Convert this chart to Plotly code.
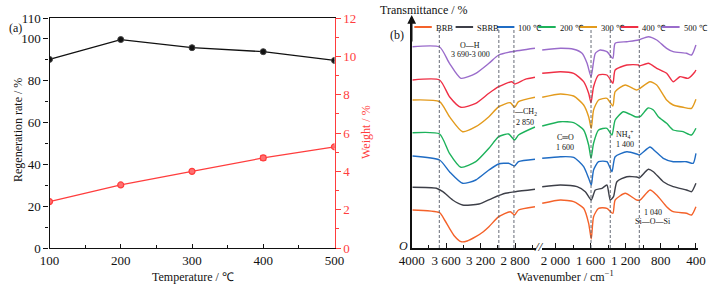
import plotly.graph_objects as go

W, H = 717, 288
FONT = "Liberation Serif"

# ---------------- data: panel (a) ----------------
temperature = [100, 200, 300, 400, 500]
regeneration_rate = [90.2, 99.7, 95.8, 93.9, 89.7]
weight = [2.42, 3.29, 4.00, 4.70, 5.28]
weight_err = [0.05, 0.05, 0.06, 0.13, 0.06]

# ---------------- data: panel (b) (wavenumber, relative transmittance) ----------------
series_names = ["BRB", "SBRB", "100 ℃", "200 ℃", "300 ℃", "400 ℃", "500 ℃"]

brb_wn = [3990, 3677, 3619, 3562, 3505, 3429, 3357, 3257, 3174, 3105, 2991, 2857, 2808, 2762, 2571,
          2151, 1943, 1793, 1679, 1622, 1592, 1566, 1509, 1414, 1346, 1320, 1206, 1074, 1036, 923, 847, 734, 659, 507, 450, 400]
brb_t = [38, 35.3, 28, 19.7, 12, 6.3, 7, 11.3, 16, 21.3, 31.3, 36.3, 33, 38, 41.3,
         44.7, 48, 46.3, 39.7, 24.7, 9, 31.3, 39.7, 39.7, 34.7, 48, 54.7, 48, 48, 58, 53, 41.3, 36.3, 34.7, 33, 41.3]

sbrb_wn = [3990, 3714, 3639, 3525, 3410, 3219, 3067, 2914, 2800, 2571,
           2151, 1943, 1754, 1660, 1592, 1546, 1470, 1414, 1376, 1339, 1300, 1187, 1074, 1045, 942, 885, 772, 659, 507, 450, 400]
sbrb_t = [60.7, 59.7, 56.3, 48, 43, 44, 49.7, 54.7, 56.3, 58.7,
          61.3, 63, 61.3, 56.3, 48, 58, 59.7, 63, 48, 51.3, 66.3, 71.3, 71, 70, 78.7, 76.3, 66.3, 61.3, 58, 56.3, 64.7]

t100_wn = [3990, 3677, 3562, 3410, 3257, 3105, 2991, 2877, 2808, 2762, 2571,
           2151, 1943, 1793, 1679, 1622, 1592, 1566, 1509, 1414, 1357, 1320, 1187, 1074, 1045, 923, 866, 772, 659, 507, 432, 400]
t100_t = [92, 88, 76.3, 64.7, 68, 78, 84, 84.7, 82, 86.3, 88.7,
          89.7, 91.3, 90.7, 81.3, 69.7, 63, 78, 86.3, 86.3, 76.3, 91.3, 96.3, 94, 93, 101, 97, 89.7, 86.3, 86.3, 84.7, 94.7]

t200_wn = [3990, 3677, 3562, 3429, 3257, 3105, 2991, 2877, 2808, 2762, 2571,
           2151, 1943, 1793, 1679, 1622, 1595, 1566, 1509, 1414, 1357, 1320, 1226, 1093, 1036, 945, 885, 829, 734, 659, 546, 450, 400]
t200_t = [115.3, 114, 94.7, 80.7, 86.3, 99.7, 111.3, 114, 108, 113, 121,
          122, 126.3, 125.3, 118, 103, 89.7, 104.7, 118, 119.7, 113, 128, 136.3, 131.3, 131.3, 140, 138, 131.3, 124.7, 118, 116.3, 113, 119.7]

t300_wn = [3990, 3677, 3562, 3410, 3257, 3105, 2991, 2857, 2808, 2762, 2571,
           2151, 1943, 1793, 1679, 1622, 1592, 1566, 1509, 1414, 1346, 1320, 1206, 1074, 1036, 923, 847, 734, 659, 546, 450, 400]
t300_t = [148, 146.3, 131.3, 116.3, 121.3, 131.3, 141.3, 145.3, 140.7, 146.3, 150.7,
          150.7, 154, 152, 143, 131.3, 119.7, 138, 148, 149.7, 142, 156.3, 163, 158, 159.7, 166.3, 163, 148, 143, 140.7, 139.7, 148.7]

t400_wn = [3990, 3677, 3562, 3429, 3257, 3105, 2991, 2839, 2808, 2686, 2571,
           2151, 1943, 1793, 1679, 1622, 1595, 1566, 1509, 1414, 1346, 1320, 1187, 1056, 1045, 942, 847, 734, 659, 583, 489, 413, 400]
t400_t = [168, 168, 151.3, 140.7, 144.7, 154.7, 161.3, 166.3, 164, 168.7, 170.7,
          174.7, 176.3, 174.7, 166.3, 154.7, 145.3, 161.3, 173, 173, 164.7, 178, 183, 183, 182, 184.7, 179.7, 174.7, 166.3, 171.3, 169.7, 176, 178]

t500_wn = [3990, 3677, 3562, 3429, 3257, 3105, 2991, 2839, 2571,
           2151, 1943, 1793, 1697, 1640, 1595, 1546, 1490, 1414, 1346, 1320, 1187, 1056, 942, 847, 734, 659, 507, 450, 400]
t500_t = [201.3, 201, 184.7, 169.7, 174.7, 184.7, 193, 196.3, 199.7,
          198, 199.7, 198.7, 194.7, 184.7, 171.3, 194.7, 198, 196.3, 189.7, 204.7, 206.3, 208, 211.3, 208, 199.7, 196.3, 194.7, 193, 203]

spectra_wn = [brb_wn, sbrb_wn, t100_wn, t200_wn, t300_wn, t400_wn, t500_wn]
spectra_t = [brb_t, sbrb_t, t100_t, t200_t, t300_t, t400_t, t500_t]

left_ticks = [4000, 3600, 3200, 2800]
left_ticktext = ["4000", "3 600", "3 200", "2 800"]
right_ticks = [2000, 1600, 1200, 800, 400]
right_ticktext = ["2 000", "1 600", "1 200", "800", "400"]
dashed_left = [3680, 2990, 2815]
dashed_right = [1595, 1376, 1045]

# ---------------- styles ----------------
colors = ["#f4622a", "#3d3f48", "#1f6cc4", "#1db25b", "#e39b1d", "#ef2f45", "#9a6ccb"]
BLACK = "#111111"
RED = "#ff3d3d"


def fx(px):
    return px / W


def fy(py):
    return 1 - py / H


fig = go.Figure()

# panel (a)
fig.add_trace(go.Scatter(x=temperature, y=regeneration_rate, mode="lines+markers",
                         line=dict(color=BLACK, width=1.3),
                         marker=dict(symbol="circle", size=6, color=BLACK, line=dict(color="#444", width=1)),
                         xaxis="x", yaxis="y", showlegend=False))
fig.add_trace(go.Scatter(x=temperature, y=weight, mode="lines+markers",
                         line=dict(color=RED, width=1.2),
                         marker=dict(symbol="circle", size=6, color="#ff7070", line=dict(color=RED, width=1.2)),
                         error_y=dict(type="data", array=weight_err, color=RED, thickness=1, width=3),
                         xaxis="x", yaxis="y2", showlegend=False))

# panel (b) spectra, split over the broken axis
for name, wn, t, c in zip(series_names, spectra_wn, spectra_t, colors):
    lx = [w for w in wn if w > 2300]
    ly = [v for w, v in zip(wn, t) if w > 2300]
    rx = [w for w in wn if w <= 2300]
    ry = [v for w, v in zip(wn, t) if w <= 2300]
    fig.add_trace(go.Scatter(x=lx, y=ly, mode="lines", line=dict(color=c, width=1.4, shape="spline", smoothing=0.6),
                             xaxis="x2", yaxis="y3", name=name, showlegend=False))
    fig.add_trace(go.Scatter(x=rx, y=ry, mode="lines", line=dict(color=c, width=1.4, shape="spline", smoothing=0.6),
                             xaxis="x3", yaxis="y3", name=name, showlegend=False))

tickfont = dict(family=FONT, size=13, color=BLACK)
ydom = [fy(248), fy(18)]

fig.update_layout(
    width=W, height=H, margin=dict(l=0, r=0, t=0, b=0),
    paper_bgcolor="white", plot_bgcolor="white",
    font=dict(family=FONT, color=BLACK),
    showlegend=False,
    xaxis=dict(domain=[fx(49.5), fx(334.5)], range=[100, 500], tickvals=temperature,
               ticks="inside", ticklen=4, tickcolor=BLACK, showline=True, linecolor=BLACK, linewidth=1.4,
               mirror=True, showgrid=False, zeroline=False, tickfont=tickfont, anchor="y",
               minor=dict(dtick=50, ticks="inside", ticklen=3, tickcolor=BLACK), automargin=False),
    yaxis=dict(domain=ydom, range=[0, 110], tickvals=[0, 20, 40, 60, 80, 100, 110],
               ticks="outside", ticklen=5, tickcolor=BLACK, showline=True, linecolor=BLACK, linewidth=1.4,
               showgrid=False, zeroline=False, tickfont=tickfont, anchor="x",
               minor=dict(tickvals=[10, 30, 50, 70, 90], ticks="outside", ticklen=3, tickcolor=BLACK), automargin=False),
    yaxis2=dict(domain=ydom, range=[0, 12], dtick=2, overlaying="y", side="right", anchor="x",
                ticks="outside", ticklen=5, tickcolor=RED, showline=True, linecolor=RED, linewidth=1.4,
                showgrid=False, zeroline=False, tickfont=dict(family=FONT, size=13, color=RED),
                minor=dict(dtick=1, ticks="outside", ticklen=3, tickcolor=RED), automargin=False),
    xaxis2=dict(domain=[fx(411.7), fx(535.5)], range=[4000, 2565], tickvals=left_ticks, ticktext=left_ticktext,
                ticks="inside", ticklen=5, tickcolor=BLACK, showline=True, linecolor=BLACK, linewidth=1.6,
                showgrid=False, zeroline=False, tickfont=tickfont, anchor="y3",
                minor=dict(dtick=200, ticks="inside", ticklen=3, tickcolor=BLACK), automargin=False),
    xaxis3=dict(domain=[fx(541.5), fx(697.7)], range=[2159, 380], tickvals=right_ticks, ticktext=right_ticktext,
                ticks="inside", ticklen=5, tickcolor=BLACK, showline=True, linecolor=BLACK, linewidth=1.6,
                showgrid=False, zeroline=False, tickfont=tickfont, anchor="y3",
                minor=dict(dtick=200, ticks="inside", ticklen=3, tickcolor=BLACK), automargin=False),
    yaxis3=dict(domain=ydom, range=[0, 230], showticklabels=False, ticks="", showline=True,
                linecolor=BLACK, linewidth=1.8, showgrid=False, zeroline=False, anchor="x2", automargin=False),
)

shapes = []
for v in dashed_left:
    shapes.append(dict(type="line", xref="x2", yref="paper", x0=v, x1=v, y0=fy(248), y1=fy(29),
                       line=dict(color="#555a66", width=0.9, dash="3px,2px")))
for v in dashed_right:
    shapes.append(dict(type="line", xref="x3", yref="paper", x0=v, x1=v, y0=fy(248), y1=fy(29),
                       line=dict(color="#555a66", width=0.9, dash="3px,2px")))

annotations = []


def txt(text, px, py, size=12, color=BLACK, angle=0, xanchor="center", italic=False):
    annotations.append(dict(text=text, x=fx(px), y=fy(py), xref="paper", yref="paper", showarrow=False,
                            xanchor=xanchor, yanchor="middle", textangle=angle,
                            font=dict(family=FONT, size=size, color=color,
                                      style="italic" if italic else "normal")))


# manual legend for panel (b)
for i, (name, c) in enumerate(zip(series_names, colors)):
    x0 = 414.3 + 41.3 * i
    shapes.append(dict(type="line", xref="paper", yref="paper", x0=fx(x0), x1=fx(x0 + 17.5),
                       y0=fy(27), y1=fy(27), line=dict(color=c, width=2)))
    txt(name, x0 + 19.5, 27.5, size=8.5, xanchor="left")

# axis arrow
annotations.append(dict(text="", x=fx(411.7), y=fy(15), xref="paper", yref="paper", ax=0, ay=28,
                        showarrow=True, arrowhead=2, arrowsize=1.1, arrowwidth=1.6, arrowcolor=BLACK))

txt("(a)", 15, 28, size=12)
txt("(b)", 397, 35, size=12)
txt("Regeneration rate / %", 18, 130, size=12, angle=-90)
txt("Weight / %", 366, 132, size=12, color=RED, angle=-90)
txt("Temperature / ℃", 193, 277, size=12)
txt("Transmittance / %", 424, 10, size=12)
txt("Wavenumber / cm<sup>−1</sup>", 565, 276, size=12)
txt("O", 403, 246, size=12, italic=True)
txt("//", 538.5, 246, size=13, italic=True)
txt("O—H", 470, 45, size=8)
txt("3 690-3 000", 470, 54, size=8)
txt("—CH<sub>2</sub>", 525, 112, size=8)
txt("2 850", 525, 122, size=8)
txt("C═O", 565, 137, size=8)
txt("1 600", 565, 147, size=8)
txt("NH<sub>4</sub><sup>+</sup>", 625, 134, size=8)
txt("1 400", 625, 144, size=8)
txt("1 040", 653, 212, size=8)
txt("Si—O—Si", 653, 221, size=8)

fig.update_layout(shapes=shapes, annotations=annotations)
fig.write_html("out.html", config={"displayModeBar": False},
               post_script="document.body.style.margin='0';document.body.style.padding='0';")
